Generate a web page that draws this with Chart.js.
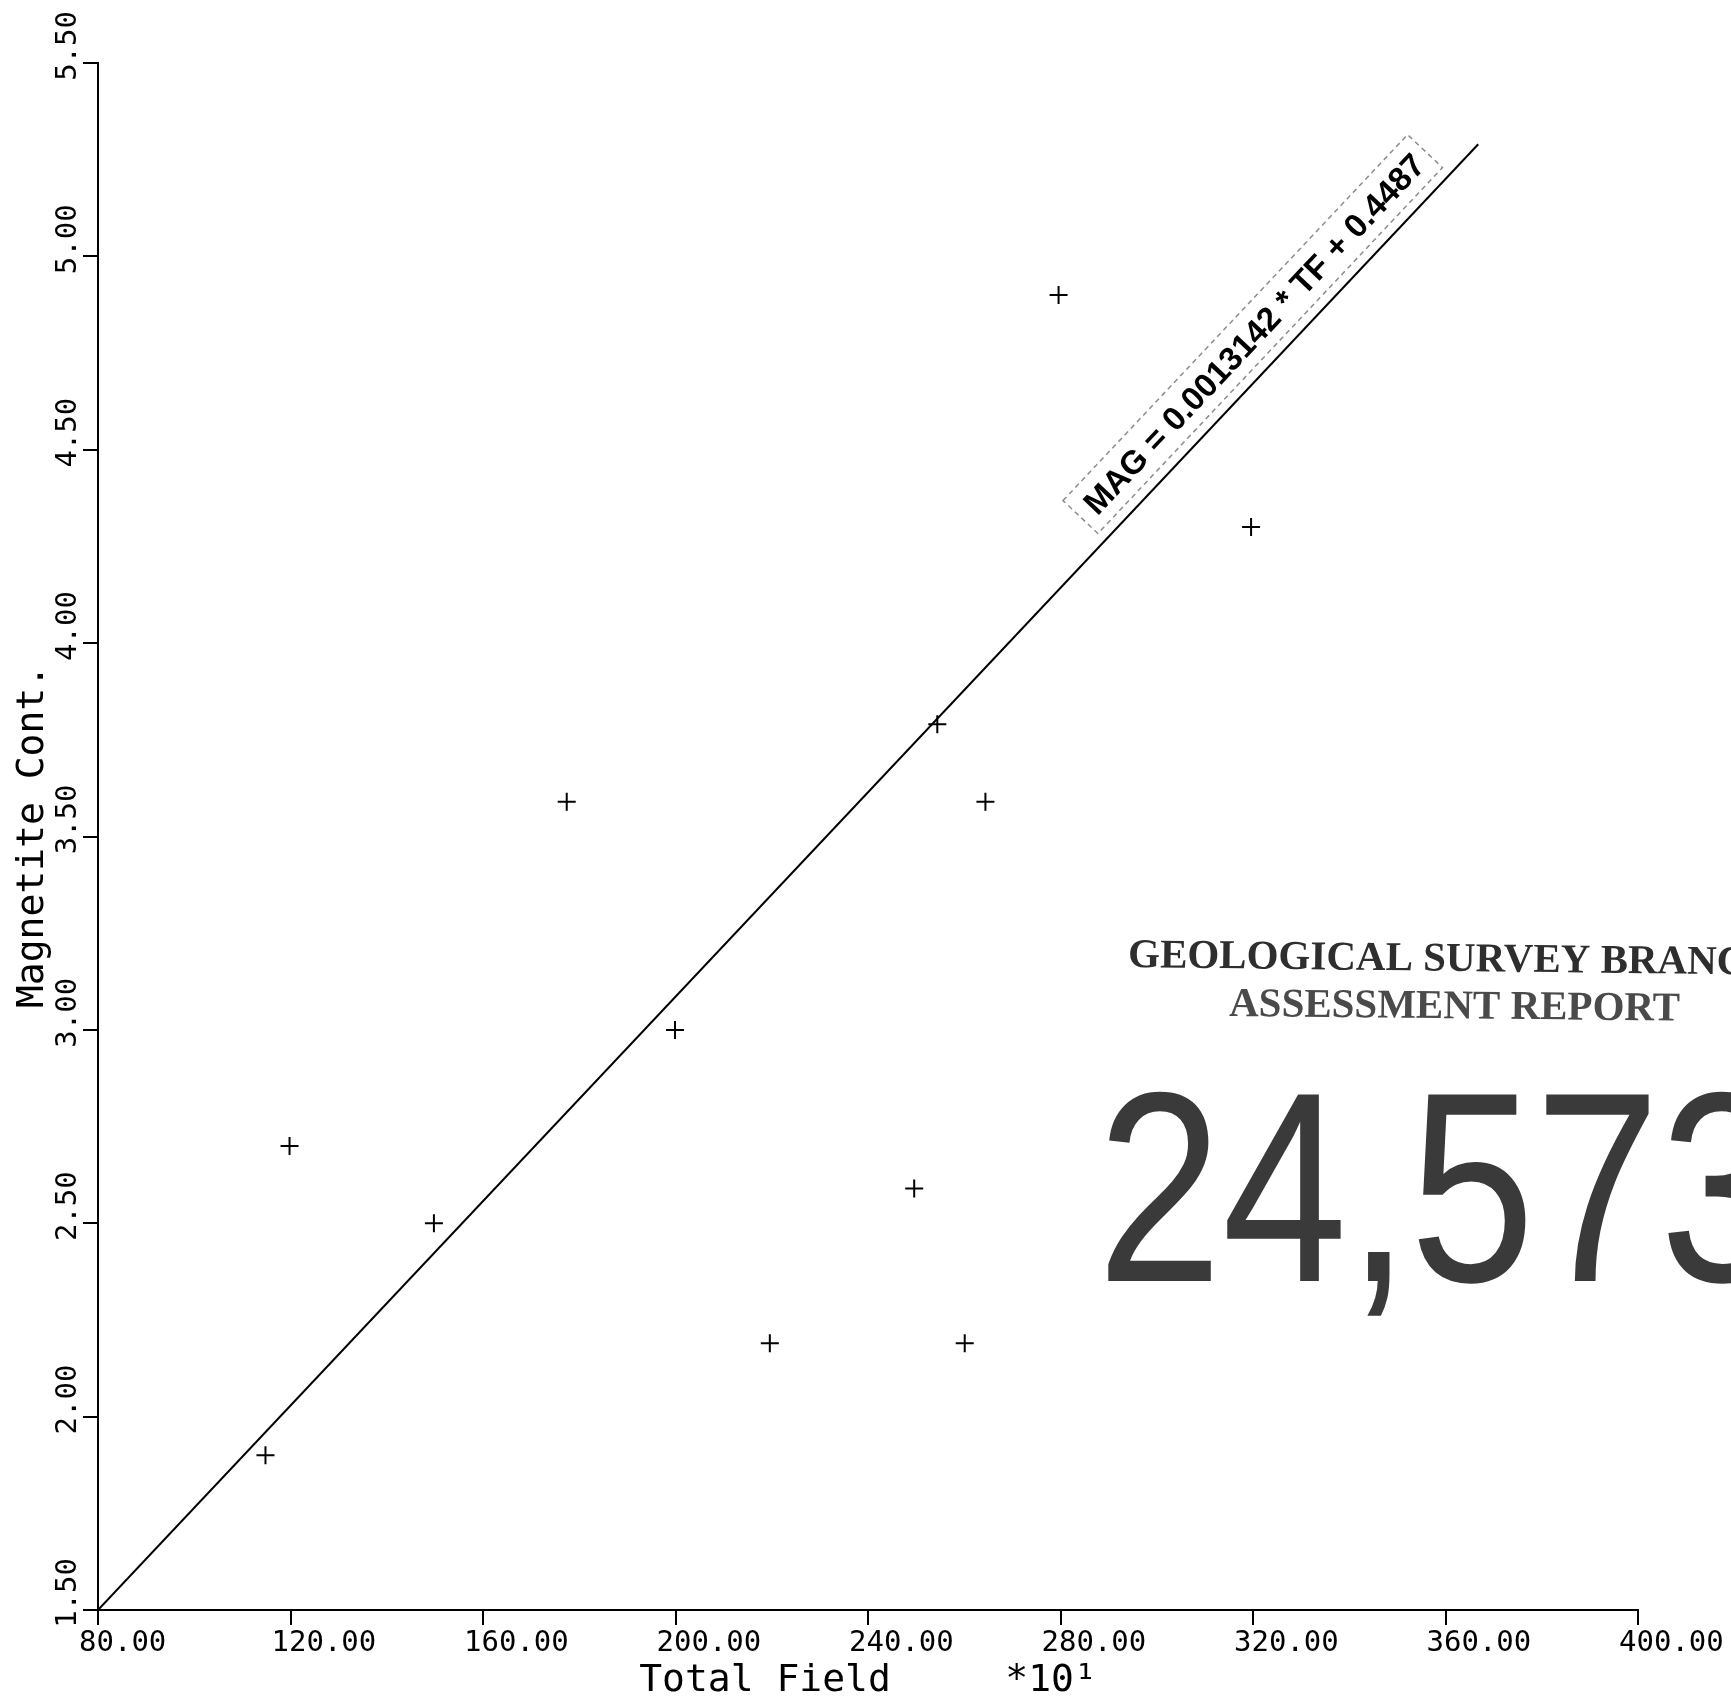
<!DOCTYPE html>
<html>
<head>
<meta charset="utf-8">
<script src="https://cdn.jsdelivr.net/npm/chart.js@4.4.1/dist/chart.umd.min.js"></script>
<style>
  html, body { margin: 0; padding: 0; background: #ffffff; }
  #wrap { width: 1731px; height: 1700px; position: relative; }
</style>
</head>
<body>
<div id="wrap"><canvas id="c" width="1731" height="1700"></canvas></div>
<script>
// ---- data ----
const xValues = [114.8, 119.8, 149.8, 177.4, 199.9, 219.6, 249.6, 254.4, 260.1, 264.4, 279.6, 319.6];
const yValues = [1.90, 2.70, 2.50, 3.59, 3.00, 2.19, 2.59, 3.79, 2.19, 3.59, 4.90, 4.30];
const fitLineX = [80, 366.8];
const fitLineY = [1.50, 5.29];
const xTickValues = [80, 120, 160, 200, 240, 280, 320, 360, 400];
const xTickLabels = ['80.00', '120.00', '160.00', '200.00', '240.00', '280.00', '320.00', '360.00', '400.00'];
const yTickValues = [1.5, 2.0, 2.5, 3.0, 3.5, 4.0, 4.5, 5.0, 5.5];
const yTickLabels = ['1.50', '2.00', '2.50', '3.00', '3.50', '4.00', '4.50', '5.00', '5.50'];
const xAxisTitle = 'Total Field     *10\u00B9';
const yAxisTitle = 'Magnetite Cont.';
const equationText = 'MAG = 0.0013142 * TF + 0.4487';
const equationAnchorX = 291;
const stampLines = ['GEOLOGICAL SURVEY BRANCH', 'ASSESSMENT REPORT'];
const stampNumber = '24,573';

const plotFont = '"DejaVu Sans Mono", "Liberation Mono", monospace';

const pointsData = xValues.map((x, i) => ({ x: x, y: yValues[i] }));
const lineData = fitLineX.map((x, i) => ({ x: x, y: fitLineY[i] }));

const whiteBg = {
  id: 'whiteBg',
  beforeDraw(chart) {
    const c = chart.ctx;
    c.save();
    c.fillStyle = '#ffffff';
    c.fillRect(0, 0, chart.width, chart.height);
    c.restore();
  }
};

const equationLabel = {
  id: 'equationLabel',
  afterDatasetsDraw(chart) {
    const xs = chart.scales.x, ys = chart.scales.y;
    const c = chart.ctx;
    const p1 = { x: xs.getPixelForValue(fitLineX[0]), y: ys.getPixelForValue(fitLineY[0]) };
    const p2 = { x: xs.getPixelForValue(fitLineX[1]), y: ys.getPixelForValue(fitLineY[1]) };
    const ang = Math.atan2(p2.y - p1.y, p2.x - p1.x);
    const t = (equationAnchorX - fitLineX[0]) / (fitLineX[1] - fitLineX[0]);
    const ax = p1.x + t * (p2.x - p1.x);
    const ay = p1.y + t * (p2.y - p1.y);
    c.save();
    c.translate(ax, ay);
    c.rotate(ang);
    c.translate(0, -22);
    c.font = 'bold 33px "Liberation Sans", Arial, sans-serif';
    c.textAlign = 'left';
    c.textBaseline = 'alphabetic';
    const w = c.measureText(equationText).width;
    c.setLineDash([5, 4]);
    c.strokeStyle = '#8c8c8c';
    c.lineWidth = 1.5;
    c.strokeRect(-12, -36, w + 22, 48);
    c.setLineDash([]);
    c.fillStyle = '#000000';
    c.fillText(equationText, 0, 0);
    c.restore();
  }
};

const stamp = {
  id: 'stamp',
  afterDraw(chart) {
    const c = chart.ctx;
    c.save();
    c.textAlign = 'left';
    c.textBaseline = 'alphabetic';
    c.fillStyle = '#2e2e2e';
    c.font = 'bold 41px "Liberation Serif", "DejaVu Serif", serif';
    c.save();
    c.translate(1128, 967);
    c.rotate(0.012);
    c.fillText(stampLines[0], 0, 0);
    c.restore();
    c.fillStyle = '#4a4a4a';
    c.save();
    c.translate(1229, 1016);
    c.rotate(0.01);
    c.fillText(stampLines[1], 0, 0);
    c.restore();
    c.fillStyle = '#3a3a3a';
    c.font = '271px "Liberation Sans", Arial, sans-serif';
    c.save();
    c.translate(1097, 1281);
    c.scale(0.83, 1);
    c.fillText(stampNumber, 0, 0);
    c.restore();
    c.restore();
  }
};

new Chart(document.getElementById('c'), {
  type: 'scatter',
  data: {
    datasets: [
      {
        type: 'line',
        data: lineData,
        borderColor: '#000000',
        borderWidth: 2,
        pointRadius: 0,
        fill: false,
        tension: 0
      },
      {
        type: 'scatter',
        data: pointsData,
        pointStyle: 'cross',
        pointRadius: 9,
        pointBorderWidth: 2,
        borderColor: '#000000',
        backgroundColor: '#000000'
      }
    ]
  },
  options: {
    responsive: false,
    animation: false,
    devicePixelRatio: 1,
    events: [],
    layout: { padding: { left: 0, right: 93, top: 63, bottom: 0 } },
    plugins: {
      legend: { display: false },
      tooltip: { enabled: false },
      title: { display: false }
    },
    scales: {
      x: {
        type: 'linear',
        position: 'bottom',
        min: 80,
        max: 400,
        afterBuildTicks: (s) => { s.ticks = xTickValues.map(v => ({ value: v })); },
        afterFit: (s) => { s.height = 90; s.paddingLeft = 0; s.paddingRight = 0; },
        border: { display: true, color: '#000000', width: 2 },
        grid: { display: true, drawOnChartArea: false, drawTicks: true, tickLength: 15, color: '#000000', lineWidth: 2 },
        ticks: {
          autoSkip: false,
          maxRotation: 0,
          minRotation: 0,
          align: 'start',
          labelOffset: -19,
          padding: 1,
          color: '#000000',
          font: { family: plotFont, size: 29 },
          callback: (v, i) => xTickLabels[i]
        },
        title: {
          display: true,
          text: xAxisTitle,
          color: '#000000',
          font: { family: plotFont, size: 38, lineHeight: 1 },
          padding: { top: 0, bottom: 0 }
        }
      },
      y: {
        type: 'linear',
        position: 'left',
        min: 1.5,
        max: 5.5,
        afterBuildTicks: (s) => { s.ticks = yTickValues.map(v => ({ value: v })); },
        afterFit: (s) => { s.width = 98; s.paddingTop = 0; s.paddingBottom = 0; },
        border: { display: true, color: '#000000', width: 2 },
        grid: { display: true, drawOnChartArea: false, drawTicks: true, tickLength: 15, color: '#000000', lineWidth: 2 },
        ticks: {
          autoSkip: false,
          minRotation: 90,
          maxRotation: 90,
          crossAlign: 'near',
          padding: 15,
          labelOffset: -52,
          color: '#000000',
          font: { family: plotFont, size: 29 },
          callback: (v, i) => yTickLabels[i]
        },
        title: {
          display: true,
          text: yAxisTitle,
          color: '#000000',
          font: { family: plotFont, size: 38, lineHeight: 1 },
          padding: { top: 14, bottom: 0 }
        }
      }
    }
  },
  plugins: [whiteBg, equationLabel, stamp]
});
</script>
</body>
</html>
